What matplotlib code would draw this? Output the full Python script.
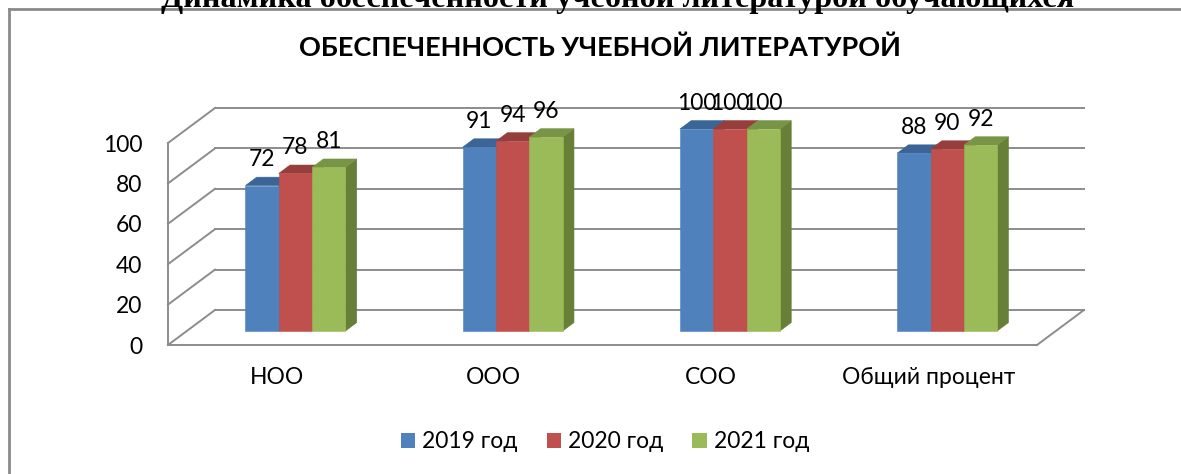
import numpy as np
import matplotlib
matplotlib.use("Agg")
import matplotlib.pyplot as plt
from matplotlib.patches import Polygon, Rectangle
from matplotlib.lines import Line2D
from matplotlib.transforms import IdentityTransform

# ---- data ----
categories = ["НОО", "ООО", "СОО", "Общий процент"]
series_names = ["2019 год", "2020 год", "2021 год"]
values_2019 = [72, 91, 100, 88]
values_2020 = [78, 94, 100, 90]
values_2021 = [81, 96, 100, 92]
y_ticks = [0, 20, 40, 60, 80, 100]

series_values = [values_2019, values_2020, values_2021]
front_colors = ["#4F81BD", "#C0504D", "#9BBB59"]
top_colors = ["#3B6597", "#963E3B", "#789546"]
side_colors = ["#345A88", "#873634", "#677F37"]

W, H, DPI = 1181, 474, 100
fig = plt.figure(figsize=(W / DPI, H / DPI), dpi=DPI)
fig.patch.set_facecolor("white")

FONT = ["Lato", "Open Sans", "DejaVu Sans"]
plt.rcParams["font.family"] = FONT
FS = 16.5

# front plane of the 3-D box
ax = fig.add_axes([168 / W, (H - 345) / H, 869 / W, 202 / H])
ax.set_xlim(0, len(categories))
ax.set_ylim(0, 100)
ax.patch.set_alpha(0)
for s in ("top", "right"):
    ax.spines[s].set_visible(False)
for s in ("left", "bottom"):
    ax.spines[s].set_color("#8C8C8C")
    ax.spines[s].set_linewidth(1.4)

ax.set_yticks(y_ticks)
ax.set_yticklabels([str(t) for t in y_ticks], fontsize=FS)
ax.set_xticks(np.arange(len(categories)) + 0.5)
ax.set_xticklabels(categories, fontsize=FS)
ax.tick_params(axis="y", length=0, pad=18.5)
ax.tick_params(axis="x", length=0, pad=16)

# depth vector of the box in pixels (right and up)
DX, DY = 47.0, 35.0
GRID = "#8C8C8C"


def proj(x, v, depth):
    px, py = ax.transData.transform((x, v))
    return (px + depth * DX, py + depth * DY)


ident = IdentityTransform()


def seg(p, q, **kw):
    ax.add_line(Line2D([p[0], q[0]], [p[1], q[1]], transform=ident,
                       color=GRID, lw=1.4, clip_on=False, **kw))


n = len(categories)
# back wall gridlines and side wall diagonals
for t in y_ticks:
    seg(proj(0, t, 1), proj(n, t, 1))
    seg(proj(0, t, 0), proj(0, t, 1))
# floor right edge
seg(proj(n, 0, 0), proj(n, 0, 1))

# bars
bar_w = 0.1535
d0, d1 = 0.40, 0.64
for i in range(n):
    for k, vals in enumerate(series_values):
        v = vals[i]
        x0 = i + 0.5 - 1.5 * bar_w + k * bar_w
        x1 = x0 + bar_w
        side = [proj(x1, 0, d0), proj(x1, 0, d1), proj(x1, v, d1), proj(x1, v, d0)]
        top = [proj(x0, v, d0), proj(x1, v, d0), proj(x1, v, d1), proj(x0, v, d1)]
        front = [proj(x0, 0, d0), proj(x1, 0, d0), proj(x1, v, d0), proj(x0, v, d0)]
        for pts, col in ((side, side_colors[k]), (top, top_colors[k]), (front, front_colors[k])):
            ax.add_patch(Polygon(pts, closed=True, transform=ident, facecolor=col,
                                 edgecolor=col, lw=0.4, clip_on=False, zorder=3))
        ax.annotate(str(v), xy=(x0 + bar_w / 2, v),
                    xytext=(d0 * DX * 0.72, (d0 * DY + 26) * 0.72),
                    textcoords="offset points", ha="center", va="center",
                    fontsize=FS, color="black", zorder=5, annotation_clip=False)

# chart frame (runs past the right and bottom edges)
fig.add_artist(Line2D([8.5 / W, 8.5 / W], [0, (H - 9) / H], color="#8A8A8A", lw=2))
fig.add_artist(Line2D([8.5 / W, 1], [(H - 9) / H, (H - 9) / H], color="#8A8A8A", lw=2))

# document heading above the chart frame
fig.text(618 / W, (H - 7.5) / H, "Динамика обеспеченности учебной литературой обучающихся",
         ha="center", va="baseline", fontsize=23.2, fontweight="bold",
         family=["Liberation Serif", "DejaVu Serif"])

# chart title
fig.text(600 / W, (H - 48) / H, "ОБЕСПЕЧЕННОСТЬ УЧЕБНОЙ ЛИТЕРАТУРОЙ",
         ha="center", va="center", fontsize=19.5, fontweight="bold")

# legend
handles = [Rectangle((0, 0), 1, 1, facecolor=c, edgecolor="none") for c in front_colors]
fig.legend(handles, series_names, loc="center", bbox_to_anchor=(605 / W, (H - 442) / H),
           ncol=3, frameon=False, fontsize=FS, handlelength=0.62, handleheight=0.65,
           handletextpad=0.31, columnspacing=1.27)

fig.savefig("out.png", dpi=DPI)
